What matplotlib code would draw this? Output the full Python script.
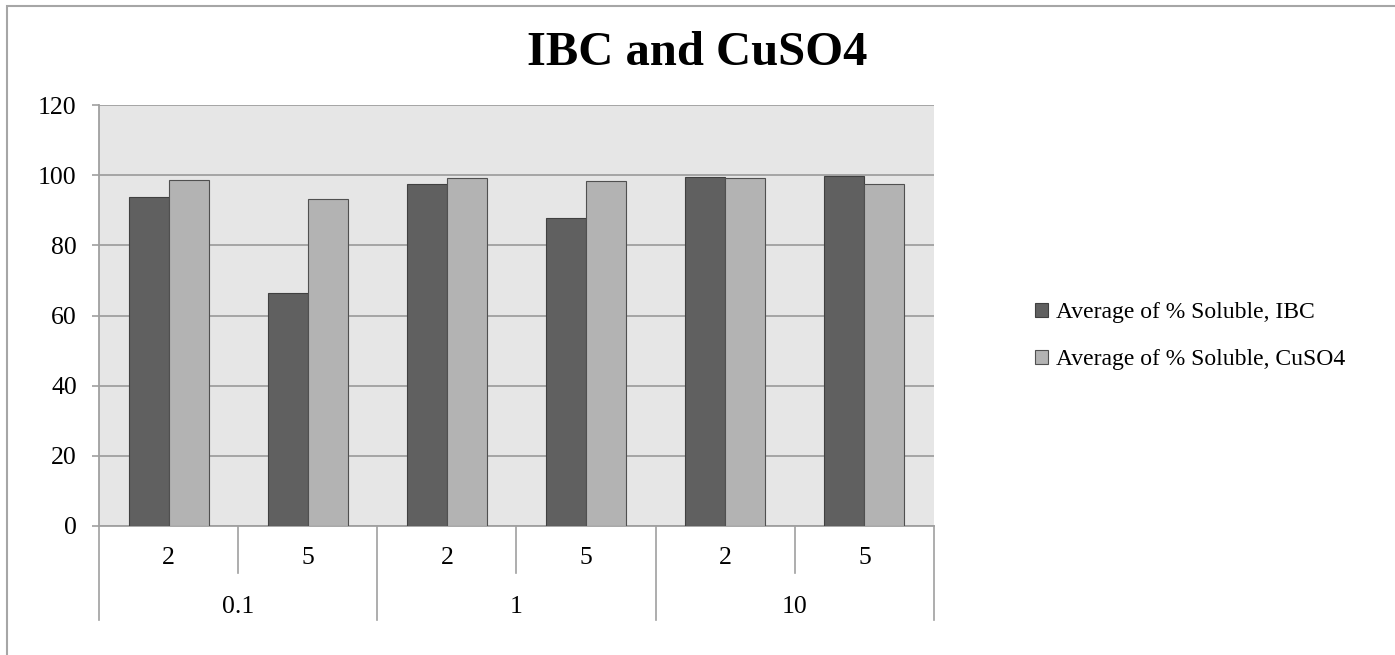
import matplotlib
matplotlib.use("Agg")
import matplotlib.pyplot as plt
from matplotlib.patches import Rectangle, Patch
from matplotlib.lines import Line2D
import numpy as np

title = "IBC and CuSO4"
inner_labels = ["2", "5", "2", "5", "2", "5"]
outer_labels = ["0.1", "1", "10"]
series_names = ["Average of % Soluble, IBC", "Average of % Soluble, CuSO4"]
ibc = [93.8, 66.5, 97.6, 87.9, 99.6, 99.9]
cuso4 = [98.6, 93.2, 99.1, 98.3, 99.2, 97.4]
yticks = [0, 20, 40, 60, 80, 100, 120]

plt.rcParams['font.family'] = ['Liberation Serif', 'DejaVu Serif']

W, H = 1395, 655
fig = plt.figure(figsize=(W/100, H/100), dpi=100)
ax = fig.add_axes([99/W, 1-526/H, (934-99)/W, (526-105)/H])

x = np.arange(len(inner_labels))
bw = 40/139.2
c_dark = "#606060"
c_light = "#b3b3b3"
ax.bar(x - bw/2, ibc, bw, color=c_dark, edgecolor="#404040", linewidth=0.8, zorder=3)
ax.bar(x + bw/2, cuso4, bw, color=c_light, edgecolor="#505050", linewidth=0.8, zorder=3)

ax.set_facecolor("#e6e6e6")
ax.set_xlim(-0.5, len(inner_labels) - 0.5)
ax.set_ylim(0, 120)
ax.set_yticks(yticks)
ax.set_yticklabels([str(v) for v in yticks], fontsize=18.5)
ax.yaxis.grid(True, color="#a0a0a0", linewidth=1.3, zorder=1)
ax.set_axisbelow(True)
ax.tick_params(axis='y', length=5, color="#a0a0a0", width=1.2, pad=11)
ax.set_xticks([])
for s in ["top", "right"]:
    ax.spines[s].set_visible(False)
for s in ["left", "bottom"]:
    ax.spines[s].set_color("#a0a0a0")
    ax.spines[s].set_linewidth(1.3)

tr = ax.get_xaxis_transform()
ph = 526 - 105
y_in = -(573 - 526) / ph
y_out = -(620 - 526) / ph
for i in range(len(inner_labels) + 1):
    xb = i - 0.5
    yb = y_out if i % 2 == 0 else y_in
    ax.add_line(Line2D([xb, xb], [0, yb], transform=tr, color="#a0a0a0", lw=1.2, clip_on=False))
for i, lab in enumerate(inner_labels):
    ax.text(i, -(558 - 526) / ph, lab, transform=tr, ha='center', va='center', fontsize=18.5)
for j, lab in enumerate(outer_labels):
    ax.text(2*j + 0.5, -(607 - 526) / ph, lab, transform=tr, ha='center', va='center', fontsize=18.5)

fig.text(0.5, 1-53/H, title, ha='center', va='center', fontsize=35, fontweight='bold')

handles = [Patch(facecolor=c_dark, edgecolor="#404040", linewidth=0.8),
           Patch(facecolor=c_light, edgecolor="#505050", linewidth=0.8)]
fig.legend(handles, series_names, loc='center left', bbox_to_anchor=(1026/W, 1-336/H),
           frameon=False, fontsize=17, handlelength=0.55, handleheight=0.55,
           handletextpad=0.3, labelspacing=1.1, borderaxespad=0)

fig.add_artist(Rectangle((7/W, -0.1), 2, (1-6/H) + 0.1, transform=fig.transFigure,
                         fill=False, edgecolor="#a6a6a6", linewidth=1.5))

fig.savefig("out.png", dpi=100)
